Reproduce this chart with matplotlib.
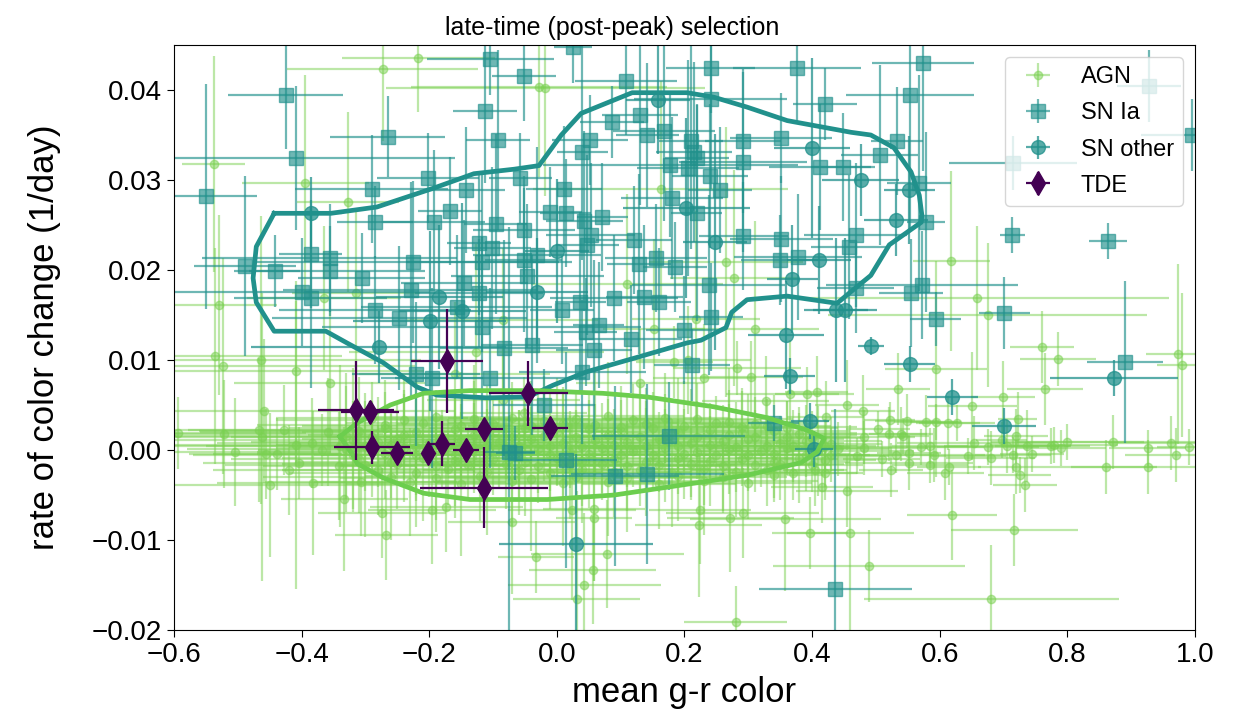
import numpy as np
import matplotlib.pyplot as plt

plt.rcParams['font.family'] = ['Liberation Sans', 'DejaVu Sans']

# ---- AGN (mean g-r, rate, errors) ----
agn_x = [
    -0.217, -0.273, -0.538, -0.394, -0.327, -0.529, -0.365, -0.315, -0.085, -0.028,
    -0.018, 0.163, 0.265, 0.278, 0.110, 0.218, 0.152, 0.311, 0.618, 0.659,
    0.675, 0.760, 0.785, 0.974, 0.980, 0.594, 0.765, 0.535, 0.699, 0.651,
    0.480, 0.722, 0.522, 0.549, 0.578, 0.594, 0.613, 0.627, 0.503, 0.520,
    0.539, 0.543, 0.481, 0.482, 0.719, 0.697, 0.800, 0.779, 0.871, 0.963,
    0.990, 0.926, 0.970, 0.790, 0.775, 0.653, 0.675, 0.706, 0.737, 0.745,
    0.715, 0.680, 0.644, 0.591, 0.570, 0.585, 0.552, 0.531, 0.509, 0.470,
    0.552, 0.585, 0.524, 0.614, 0.609, 0.720, 0.725, 0.734, 0.860, 0.926,
    0.619, 0.717, 0.489, 0.681, 0.282, 0.305, 0.407, 0.392, 0.365, 0.455,
    0.222, 0.225, 0.272, 0.291, 0.358, 0.397, 0.460, 0.280, 0.455, 0.415,
    0.420, 0.405, -0.033, 0.056, 0.043, 0.031, 0.079, 0.058, 0.058, 0.024,
    -0.071, -0.196, -0.173, -0.267, -0.274, 0.327, 0.184, 0.205, 0.231, 0.421,
    -0.126, -0.160, -0.356, -0.463, -0.523, -0.536, -0.408, -0.084, -0.052, 0.130,
    -0.459, -0.593, -0.522, -0.467, -0.462, -0.428, -0.504, -0.456, -0.439, -0.409,
    -0.404, -0.419, -0.450, -0.382, -0.359, -0.383, -0.368, -0.333, -0.307, -0.341,
    # dense core
    -0.29, -0.24, -0.19, -0.13, -0.07, -0.02, 0.03, 0.08, 0.12, 0.17, 0.22, 0.27, 0.31,
    -0.31, -0.27, -0.22, -0.16, -0.11, -0.05, 0.00, 0.05, 0.10, 0.15, 0.19, 0.24, 0.29, 0.34, 0.38,
    -0.32, -0.28, -0.25, -0.20, -0.15, -0.09, -0.04, 0.01, 0.06, 0.11, 0.16, 0.21, 0.26, 0.30, 0.35, 0.39, 0.43,
    -0.33, -0.29, -0.24, -0.18, -0.13, -0.08, -0.03, 0.02, 0.07, 0.12, 0.17, 0.22, 0.27, 0.32, 0.36, 0.41, 0.44,
    -0.31, -0.26, -0.21, -0.16, -0.10, -0.05, 0.00, 0.04, 0.09, 0.14, 0.19, 0.24, 0.29, 0.34, 0.38, 0.42,
    -0.28, -0.22, -0.17, -0.11, -0.06, -0.01, 0.04, 0.09, 0.13, 0.18, 0.23, 0.28, 0.33, 0.37,
    -0.23, -0.15, -0.07, 0.01, 0.08, 0.16, 0.23, 0.30,
    -0.27, -0.21, -0.15, -0.10, -0.04, 0.01, 0.06, 0.10, 0.14, 0.20, 0.25, 0.29, 0.33, 0.36,
    -0.33, -0.29, -0.24, -0.18, -0.13, -0.07, -0.02, 0.03, 0.08, 0.13, 0.17, 0.22, 0.27, 0.31, 0.36, 0.40,
    -0.34, -0.30, -0.26, -0.22, -0.17, -0.11, -0.06, -0.01, 0.04, 0.09, 0.14, 0.19, 0.24, 0.28, 0.33, 0.37, 0.42,
    -0.32, -0.27, -0.22, -0.16, -0.11, -0.06, -0.01, 0.05, 0.10, 0.15, 0.20, 0.25, 0.30, 0.34, 0.39, 0.43,
    -0.30, -0.25, -0.19, -0.14, -0.08, -0.03, 0.02, 0.07, 0.11, 0.16, 0.21, 0.26, 0.31, 0.35, 0.40,
    -0.26, -0.19, -0.12, -0.04, 0.03, 0.11, 0.19, 0.26, 0.34,
]
agn_y = [
    0.0436, 0.0423, 0.0318, 0.0297, 0.0276, 0.0161, 0.0169, 0.0174, 0.0144, 0.0403,
    0.0402, 0.0290, 0.0209, 0.0191, 0.0184, 0.0146, 0.0134, 0.0134, 0.0210, 0.0169,
    0.0150, 0.0115, 0.0101, 0.0107, 0.0094, 0.0090, 0.0068, 0.0068, 0.0059, 0.0049,
    0.0043, 0.0035, 0.0033, 0.0032, 0.0031, 0.0031, 0.0030, 0.0030, 0.0023, 0.0018,
    0.0018, 0.0016, 0.0015, 0.0002, 0.0016, 0.0011, 0.0009, 0.0006, 0.0009, 0.0008,
    0.0003, 0.0002, -0.0005, 0.0002, 0.0004, 0.0008, 0.0003, 0.0004, 0.0005, -0.0004,
    -0.0005, -0.0009, -0.0007, -0.0006, 0.0003, 0.0005, -0.0003, -0.0005, -0.0010, -0.0007,
    -0.0014, -0.0017, -0.0022, -0.0019, -0.0025, -0.0019, -0.0028, -0.0039, -0.0019, -0.0019,
    -0.0072, -0.0089, -0.0129, -0.0166, 0.0091, 0.0081, 0.0064, 0.0062, 0.0062, 0.0050,
    -0.0083, -0.0067, -0.0075, -0.0070, -0.0077, -0.0092, -0.0092, -0.0191, -0.0045, -0.0041,
    -0.0026, -0.0022, -0.0119, -0.0133, -0.0150, -0.0165, -0.0116, -0.0065, -0.0076, -0.0067,
    -0.0080, -0.0067, -0.0063, -0.0094, -0.0070, 0.0054, 0.0098, 0.0100, 0.0080, 0.0037,
    0.0109, 0.0085, 0.0074, 0.0100, 0.0093, 0.0104, 0.0088, 0.0056, 0.0041, 0.0075,
    0.0043, 0.0019, 0.0018, 0.0022, 0.0015, 0.0022, -0.0002, -0.0004, -0.0004, 0.0006,
    -0.0014, -0.0022, -0.0039, -0.0037, 0.0020, 0.0008, 0.0000, -0.0054, -0.0035, -0.0018,
    0.0036, 0.0033, 0.0037, 0.0034, 0.0036, 0.0032, 0.0035, 0.0038, 0.0033, 0.0036, 0.0034, 0.0031, 0.0029,
    0.0021, 0.0024, 0.0020, 0.0023, 0.0021, 0.0024, 0.0020, 0.0023, 0.0021, 0.0024, 0.0020, 0.0022, 0.0019, 0.0021, 0.0018,
    0.0011, 0.0009, 0.0012, 0.0008, 0.0011, 0.0009, 0.0012, 0.0008, 0.0011, 0.0009, 0.0012, 0.0008, 0.0010, 0.0012, 0.0008, 0.0010, 0.0007,
    0.0001, -0.0002, 0.0002, -0.0001, 0.0002, -0.0002, 0.0001, -0.0002, 0.0002, -0.0001, 0.0002, -0.0002, 0.0001, -0.0001, 0.0002, -0.0001, 0.0001,
    -0.0010, -0.0013, -0.0009, -0.0012, -0.0010, -0.0013, -0.0009, -0.0012, -0.0010, -0.0013, -0.0009, -0.0012, -0.0010, -0.0013, -0.0009, -0.0011,
    -0.0022, -0.0025, -0.0021, -0.0024, -0.0022, -0.0025, -0.0021, -0.0024, -0.0022, -0.0025, -0.0021, -0.0024, -0.0022, -0.0025,
    -0.0035, -0.0038, -0.0034, -0.0037, -0.0035, -0.0038, -0.0034, -0.0037,
    0.0028, 0.0030, 0.0027, 0.0029, 0.0027, 0.0030, 0.0028, 0.0026, 0.0029, 0.0027, 0.0030, 0.0026, 0.0027, 0.0025,
    0.0016, 0.0014, 0.0017, 0.0015, 0.0017, 0.0014, 0.0016, 0.0015, 0.0017, 0.0014, 0.0016, 0.0015, 0.0017, 0.0014, 0.0015, 0.0013,
    0.0005, 0.0004, 0.0006, 0.0003, 0.0005, 0.0006, 0.0004, 0.0005, 0.0003, 0.0006, 0.0004, 0.0005, 0.0006, 0.0003, 0.0005, 0.0004, 0.0004,
    -0.0005, -0.0004, -0.0006, -0.0005, -0.0004, -0.0006, -0.0005, -0.0004, -0.0006, -0.0005, -0.0004, -0.0006, -0.0005, -0.0004, -0.0006, -0.0005,
    -0.0017, -0.0016, -0.0018, -0.0017, -0.0016, -0.0018, -0.0017, -0.0016, -0.0018, -0.0017, -0.0016, -0.0018, -0.0017, -0.0016, -0.0017,
    -0.0030, -0.0031, -0.0029, -0.0032, -0.0030, -0.0031, -0.0029, -0.0030, -0.0028,
]
agn_xerr = [
    0.12, 0.15, 0.05, 0.10, 0.08, 0.09, 0.12, 0.10, 0.15, 0.20,
    0.25, 0.20, 0.12, 0.10, 0.15, 0.10, 0.08, 0.10, 0.06, 0.30,
    0.25, 0.05, 0.06, 0.05, 0.04, 0.08, 0.06, 0.05, 0.05, 0.07,
    0.05, 0.03, 0.04, 0.05, 0.05, 0.04, 0.05, 0.06, 0.05, 0.06,
    0.05, 0.04, 0.08, 0.10, 0.05, 0.04, 0.12, 0.10, 0.15, 0.10,
    0.05, 0.06, 0.08, 0.07, 0.06, 0.12, 0.08, 0.10, 0.05, 0.05,
    0.06, 0.07, 0.06, 0.08, 0.10, 0.06, 0.05, 0.06, 0.06, 0.05,
    0.10, 0.06, 0.05, 0.05, 0.06, 0.06, 0.05, 0.05, 0.08, 0.12,
    0.07, 0.10, 0.15, 0.20, 0.10, 0.08, 0.05, 0.05, 0.10, 0.05,
    0.10, 0.08, 0.10, 0.12, 0.15, 0.06, 0.10, 0.08, 0.08, 0.08,
    0.06, 0.05, 0.06, 0.10, 0.12, 0.10, 0.12, 0.08, 0.06, 0.10,
    0.10, 0.10, 0.12, 0.08, 0.10, 0.10, 0.06, 0.10, 0.08, 0.06,
    0.20, 0.15, 0.15, 0.25, 0.30, 0.20, 0.20, 0.12, 0.10, 0.10,
    0.30, 0.20, 0.25, 0.20, 0.25, 0.15, 0.15, 0.12, 0.10, 0.30,
    0.15, 0.12, 0.20, 0.15, 0.20, 0.15, 0.10, 0.10, 0.15, 0.12,
    0.15, 0.20, 0.12, 0.18, 0.10, 0.22, 0.15, 0.12, 0.20, 0.10, 0.15, 0.12, 0.10,
    0.25, 0.15, 0.18, 0.12, 0.20, 0.15, 0.10, 0.18, 0.12, 0.20, 0.15, 0.10, 0.18, 0.12, 0.08,
    0.30, 0.20, 0.15, 0.22, 0.12, 0.18, 0.15, 0.20, 0.12, 0.15, 0.10, 0.18, 0.12, 0.15, 0.10, 0.12, 0.08,
    0.25, 0.18, 0.20, 0.15, 0.22, 0.12, 0.18, 0.15, 0.10, 0.20, 0.12, 0.15, 0.18, 0.10, 0.12, 0.15, 0.08,
    0.20, 0.15, 0.22, 0.12, 0.18, 0.15, 0.10, 0.20, 0.12, 0.15, 0.18, 0.10, 0.15, 0.12, 0.10, 0.08,
    0.15, 0.20, 0.12, 0.18, 0.15, 0.10, 0.20, 0.12, 0.15, 0.18, 0.10, 0.15, 0.12, 0.10,
    0.15, 0.18, 0.12, 0.20, 0.15, 0.12, 0.18, 0.10,
    0.20, 0.12, 0.25, 0.15, 0.10, 0.18, 0.12, 0.20, 0.15, 0.10, 0.12, 0.18, 0.10, 0.08,
    0.28, 0.22, 0.15, 0.18, 0.12, 0.20, 0.15, 0.10, 0.18, 0.12, 0.15, 0.10, 0.20, 0.12, 0.10, 0.08,
    0.30, 0.25, 0.18, 0.20, 0.15, 0.12, 0.20, 0.15, 0.10, 0.18, 0.12, 0.15, 0.10, 0.18, 0.12, 0.10, 0.08,
    0.25, 0.20, 0.15, 0.22, 0.12, 0.18, 0.10, 0.15, 0.20, 0.12, 0.15, 0.10, 0.18, 0.12, 0.10, 0.08,
    0.22, 0.18, 0.15, 0.20, 0.12, 0.15, 0.18, 0.10, 0.15, 0.12, 0.20, 0.10, 0.12, 0.10, 0.08,
    0.20, 0.15, 0.18, 0.12, 0.20, 0.15, 0.12, 0.10, 0.08,
]
agn_yerr = [
    0.006, 0.008, 0.012, 0.012, 0.010, 0.010, 0.008, 0.009, 0.008, 0.010,
    0.012, 0.012, 0.015, 0.012, 0.010, 0.012, 0.010, 0.012, 0.010, 0.008,
    0.008, 0.004, 0.003, 0.010, 0.008, 0.012, 0.004, 0.004, 0.004, 0.006,
    0.004, 0.003, 0.002, 0.003, 0.003, 0.002, 0.003, 0.002, 0.002, 0.003,
    0.003, 0.002, 0.003, 0.003, 0.003, 0.002, 0.002, 0.002, 0.003, 0.003,
    0.002, 0.002, 0.003, 0.002, 0.002, 0.003, 0.002, 0.003, 0.004, 0.002,
    0.002, 0.003, 0.002, 0.003, 0.002, 0.002, 0.002, 0.002, 0.002, 0.002,
    0.003, 0.002, 0.003, 0.002, 0.003, 0.003, 0.002, 0.003, 0.003, 0.003,
    0.005, 0.004, 0.004, 0.006, 0.003, 0.004, 0.004, 0.003, 0.006, 0.005,
    0.008, 0.006, 0.006, 0.005, 0.008, 0.004, 0.012, 0.004, 0.004, 0.004,
    0.003, 0.004, 0.004, 0.006, 0.008, 0.012, 0.006, 0.008, 0.007, 0.010,
    0.008, 0.006, 0.005, 0.005, 0.005, 0.005, 0.004, 0.006, 0.006, 0.004,
    0.012, 0.008, 0.008, 0.016, 0.012, 0.012, 0.010, 0.006, 0.004, 0.006,
    0.008, 0.004, 0.006, 0.008, 0.016, 0.005, 0.006, 0.005, 0.004, 0.016,
    0.004, 0.005, 0.008, 0.008, 0.006, 0.005, 0.004, 0.008, 0.006, 0.006,
    0.004, 0.005, 0.003, 0.006, 0.004, 0.005, 0.003, 0.006, 0.004, 0.005, 0.004, 0.006, 0.003,
    0.006, 0.004, 0.007, 0.004, 0.005, 0.003, 0.006, 0.004, 0.005, 0.004, 0.006, 0.003, 0.005, 0.004, 0.003,
    0.008, 0.005, 0.004, 0.006, 0.004, 0.005, 0.003, 0.006, 0.004, 0.005, 0.003, 0.006, 0.004, 0.005, 0.003, 0.004, 0.003,
    0.007, 0.005, 0.006, 0.004, 0.005, 0.003, 0.006, 0.004, 0.005, 0.004, 0.006, 0.003, 0.005, 0.004, 0.003, 0.005, 0.003,
    0.006, 0.004, 0.007, 0.005, 0.004, 0.006, 0.003, 0.005, 0.004, 0.006, 0.004, 0.005, 0.003, 0.004, 0.005, 0.003,
    0.005, 0.006, 0.004, 0.007, 0.005, 0.004, 0.006, 0.005, 0.004, 0.006, 0.004, 0.005, 0.004, 0.003,
    0.006, 0.008, 0.005, 0.007, 0.006, 0.005, 0.006, 0.004,
    0.005, 0.004, 0.006, 0.003, 0.005, 0.004, 0.006, 0.003, 0.004, 0.005, 0.003, 0.004, 0.003, 0.003,
    0.007, 0.004, 0.005, 0.003, 0.006, 0.004, 0.005, 0.003, 0.004, 0.006, 0.003, 0.004, 0.005, 0.003, 0.004, 0.003,
    0.009, 0.005, 0.004, 0.006, 0.003, 0.005, 0.004, 0.006, 0.003, 0.004, 0.005, 0.003, 0.004, 0.005, 0.003, 0.004, 0.003,
    0.006, 0.005, 0.004, 0.007, 0.003, 0.005, 0.004, 0.006, 0.003, 0.004, 0.005, 0.003, 0.004, 0.003, 0.004, 0.003,
    0.008, 0.005, 0.006, 0.004, 0.005, 0.003, 0.006, 0.004, 0.005, 0.003, 0.004, 0.005, 0.003, 0.004, 0.003,
    0.007, 0.006, 0.005, 0.008, 0.004, 0.006, 0.005, 0.004, 0.003,
]

# ---- SN Ia ----
snia_x = [
    -0.425, -0.409, -0.550, -0.265, -0.290, -0.202, -0.142, -0.112, -0.092, -0.104,
    -0.285, -0.193, -0.167, -0.096, -0.122, -0.101, -0.117, -0.386, -0.356, -0.356,
    -0.489, -0.442, -0.226, -0.306, -0.229, -0.399, -0.386, -0.285, -0.247, -0.145,
    -0.122, -0.118, -0.157,
    -0.052, 0.108, 0.241, 0.376, 0.241, 0.130, 0.086, 0.142, 0.168, 0.052,
    0.040, 0.210, 0.215, 0.205, 0.219, 0.292, 0.292, 0.351, 0.420, 0.412,
    0.448, 0.178, 0.240, 0.256, 0.181, 0.219, -0.057, 0.011, -0.010, 0.014,
    0.043, 0.071, 0.053, 0.048, -0.052, -0.031, -0.052, 0.121, 0.129, 0.155,
    0.185, 0.292, 0.352, 0.349, 0.378, 0.458, 0.238, 0.090, 0.137, 0.160,
    0.037, 0.008, -0.046, 0.241, 0.066, 0.199, 0.045, 0.025,
    0.574, 0.553, 0.533, 0.506, 0.567, 0.578, 0.468, 0.714, 0.864, 0.572,
    0.555, 0.594, 0.701, 0.996, 0.928, 0.715, 0.468,
    -0.221, -0.195, -0.104, -0.083, -0.075, -0.039, 0.058, 0.116, 0.040, 0.212,
    -0.020, 0.175, 0.340, -0.065, 0.014, 0.091, 0.142, 0.436, 0.890,
]
snia_y = [
    0.0395, 0.0325, 0.0282, 0.0348, 0.0290, 0.0302, 0.0289, 0.0377, 0.0344, 0.0434,
    0.0253, 0.0253, 0.0266, 0.0251, 0.0230, 0.0224, 0.0209, 0.0218, 0.0213, 0.0199,
    0.0205, 0.0199, 0.0209, 0.0191, 0.0178, 0.0176, 0.0169, 0.0156, 0.0147, 0.0186,
    0.0174, 0.0137, 0.0159,
    0.0416, 0.0410, 0.0425, 0.0425, 0.0390, 0.0372, 0.0365, 0.0350, 0.0354, 0.0344,
    0.0331, 0.0343, 0.0331, 0.0313, 0.0324, 0.0343, 0.0320, 0.0347, 0.0384, 0.0314,
    0.0315, 0.0317, 0.0304, 0.0289, 0.0280, 0.0263, 0.0302, 0.0290, 0.0265, 0.0263,
    0.0254, 0.0259, 0.0239, 0.0228, 0.0244, 0.0217, 0.0211, 0.0233, 0.0207, 0.0213,
    0.0203, 0.0238, 0.0235, 0.0211, 0.0215, 0.0226, 0.0183, 0.0169, 0.0170, 0.0165,
    0.0165, 0.0156, 0.0193, 0.0148, 0.0139, 0.0133, 0.0131, 0.0448,
    0.0430, 0.0394, 0.0343, 0.0328, 0.0297, 0.0253, 0.0239, 0.0239, 0.0232, 0.0183,
    0.0174, 0.0146, 0.0152, 0.0350, 0.0405, 0.0319, 0.0180,
    0.0085, 0.0080, 0.0080, 0.0113, -0.0002, 0.0117, 0.0111, 0.0123, 0.0087, 0.0095,
    0.0050, 0.0016, 0.0030, -0.0003, -0.0011, -0.0029, -0.0027, -0.0154, 0.0098,
]
snia_xerr = [
    0.09, 0.25, 0.08, 0.09, 0.12, 0.08, 0.06, 0.05, 0.05, 0.10,
    0.06, 0.08, 0.05, 0.05, 0.05, 0.06, 0.12, 0.05, 0.20, 0.15,
    0.08, 0.04, 0.25, 0.10, 0.20, 0.20, 0.12, 0.15, 0.20, 0.10,
    0.10, 0.25, 0.15,
    0.05, 0.08, 0.07, 0.10, 0.12, 0.06, 0.05, 0.05, 0.08, 0.06,
    0.04, 0.05, 0.06, 0.08, 0.05, 0.06, 0.10, 0.08, 0.05, 0.08,
    0.05, 0.20, 0.06, 0.05, 0.08, 0.04, 0.05, 0.06, 0.05, 0.04,
    0.06, 0.04, 0.07, 0.05, 0.08, 0.10, 0.06, 0.06, 0.05, 0.08,
    0.05, 0.07, 0.08, 0.06, 0.10, 0.06, 0.12, 0.10, 0.06, 0.05,
    0.04, 0.05, 0.12, 0.05, 0.04, 0.06, 0.05, 0.03,
    0.08, 0.10, 0.04, 0.06, 0.05, 0.03, 0.08, 0.02, 0.03, 0.15,
    0.05, 0.04, 0.04, 0.08, 0.05, 0.10, 0.06,
    0.10, 0.08, 0.15, 0.10, 0.04, 0.08, 0.06, 0.08, 0.10, 0.06,
    0.08, 0.12, 0.04, 0.03, 0.08, 0.10, 0.12, 0.12, 0.06,
]
snia_yerr = [
    0.006, 0.008, 0.0125, 0.0045, 0.006, 0.005, 0.007, 0.008, 0.010, 0.004,
    0.004, 0.008, 0.006, 0.010, 0.008, 0.009, 0.010, 0.006, 0.006, 0.005,
    0.010, 0.004, 0.009, 0.005, 0.012, 0.006, 0.010, 0.006, 0.008, 0.007,
    0.006, 0.010, 0.008,
    0.005, 0.006, 0.005, 0.006, 0.010, 0.010, 0.004, 0.008, 0.010, 0.005,
    0.012, 0.012, 0.010, 0.012, 0.006, 0.008, 0.010, 0.005, 0.004, 0.007,
    0.006, 0.008, 0.008, 0.007, 0.009, 0.012, 0.005, 0.007, 0.005, 0.006,
    0.010, 0.006, 0.008, 0.010, 0.006, 0.012, 0.008, 0.006, 0.010, 0.006,
    0.005, 0.006, 0.007, 0.005, 0.007, 0.008, 0.010, 0.007, 0.008, 0.006,
    0.010, 0.006, 0.008, 0.006, 0.007, 0.006, 0.006, 0.004,
    0.012, 0.015, 0.006, 0.010, 0.012, 0.010, 0.008, 0.002, 0.002, 0.006,
    0.006, 0.003, 0.004, 0.004, 0.004, 0.003, 0.005,
    0.008, 0.010, 0.010, 0.012, 0.025, 0.010, 0.010, 0.006, 0.008, 0.004,
    0.004, 0.006, 0.002, 0.003, 0.012, 0.010, 0.010, 0.020, 0.009,
]

# ---- SN other ----
snother_x = [-0.386, -0.184, -0.199, -0.148, 0.000, 0.203, 0.248, 0.400, 0.411, 0.369,
             0.437, 0.452, 0.359, -0.031, 0.158, 0.476, 0.552, 0.531, -0.279, 0.365,
             0.397, 0.403, 0.030, 0.492, 0.553, 0.620, 0.701, 0.873]
snother_y = [0.0263, 0.0170, 0.0143, 0.0154, 0.0221, 0.0269, 0.0231, 0.0336, 0.0211, 0.0190,
             0.0156, 0.0156, 0.0128, 0.0176, 0.0389, 0.0300, 0.0289, 0.0256, 0.0115, 0.0082,
             0.0032, 0.0001, -0.0104, 0.0116, 0.0096, 0.0059, 0.0027, 0.0080]
snother_xerr = [0.05, 0.10, 0.12, 0.10, 0.05, 0.10, 0.05, 0.06, 0.05, 0.04,
                0.05, 0.05, 0.06, 0.08, 0.05, 0.06, 0.04, 0.05, 0.20, 0.04,
                0.03, 0.03, 0.12, 0.02, 0.04, 0.04, 0.05, 0.10]
snother_yerr = [0.004, 0.008, 0.010, 0.012, 0.008, 0.010, 0.012, 0.010, 0.006, 0.006,
                0.008, 0.008, 0.006, 0.006, 0.006, 0.004, 0.006, 0.004, 0.004, 0.002,
                0.002, 0.002, 0.010, 0.001, 0.002, 0.002, 0.002, 0.002]

# ---- TDE ----
tde_x = [-0.315, -0.293, -0.290, -0.251, -0.202, -0.180, -0.142, -0.114, -0.114, -0.172, -0.045, -0.011]
tde_y = [0.0044, 0.0042, 0.0003, -0.0003, -0.0003, 0.0007, 0.0000, 0.0023, -0.0042, 0.0099, 0.0063, 0.0024]
tde_xerr = [0.06, 0.045, 0.06, 0.025, 0.01, 0.02, 0.02, 0.03, 0.10, 0.057, 0.062, 0.028]
tde_yerr = [0.0055, 0.0012, 0.0018, 0.0008, 0.0008, 0.0025, 0.0008, 0.0012, 0.0045, 0.0058, 0.0036, 0.0008]

# ---- density contours ----
sn_contour_x = [-0.443, -0.471, -0.476, -0.471, -0.443, -0.362, -0.329, -0.272, -0.219, -0.188,
                -0.110, -0.045, -0.006, 0.047, 0.126, 0.204, 0.226, 0.265, 0.274, 0.298,
                0.361, 0.439, 0.461, 0.492, 0.521, 0.539, 0.571, 0.572, 0.568, 0.555,
                0.528, 0.492, 0.461, 0.361, 0.298, 0.246, 0.204, 0.118, 0.038, 0.007,
                -0.028, -0.067, -0.130, -0.193, -0.282, -0.354, -0.443]
sn_contour_y = [0.0263, 0.0226, 0.0191, 0.0164, 0.0132, 0.0132, 0.0119, 0.0097, 0.0070, 0.0061,
                0.0058, 0.0059, 0.0072, 0.0087, 0.0103, 0.0119, 0.0122, 0.0136, 0.0153, 0.0167,
                0.0171, 0.0163, 0.0176, 0.0194, 0.0228, 0.0237, 0.0253, 0.0261, 0.0283, 0.0309,
                0.0336, 0.0350, 0.0353, 0.0366, 0.0381, 0.0392, 0.0397, 0.0397, 0.0374, 0.0350,
                0.0316, 0.0312, 0.0307, 0.0291, 0.0270, 0.0263, 0.0263]
agn_contour_x = [-0.340, -0.313, -0.261, -0.209, -0.136, -0.031, 0.072, 0.141, 0.246, 0.329,
                 0.392, 0.419, 0.408, 0.383, 0.298, 0.195, 0.090, -0.015, -0.136, -0.209,
                 -0.272, -0.313, -0.321, -0.340]
agn_contour_y = [0.0015, 0.0030, 0.0050, 0.0063, 0.0066, 0.0066, 0.0063, 0.0059, 0.0048, 0.0036,
                 0.0022, 0.0013, -0.0002, -0.0014, -0.0028, -0.0039, -0.0050, -0.0055, -0.0055, -0.0048,
                 -0.0031, -0.0015, -0.0004, 0.0015]

c_agn = '#7ad151'
c_sn = '#21918c'
c_tde = '#440154'

fig = plt.figure(figsize=(12.4, 7.27), dpi=100)
ax = fig.add_axes([0.1403, 0.1334, 0.8234, 0.8047])

h_agn = ax.errorbar(agn_x, agn_y, xerr=agn_xerr, yerr=agn_yerr, fmt='o', ms=6,
                    color=c_agn, alpha=0.5, elinewidth=1.6, zorder=1, label='AGN')
h_ia = ax.errorbar(snia_x, snia_y, xerr=snia_xerr, yerr=snia_yerr, fmt='s', ms=10,
                   color=c_sn, alpha=0.65, elinewidth=1.6, zorder=2, label='SN Ia')
h_ot = ax.errorbar(snother_x, snother_y, xerr=snother_xerr, yerr=snother_yerr, fmt='o', ms=10,
                   color=c_sn, alpha=0.75, elinewidth=1.6, zorder=2, label='SN other')

ax.plot(sn_contour_x, sn_contour_y, color=c_sn, lw=3.4, zorder=3)
ax.plot(agn_contour_x, agn_contour_y, color='#6cce4e', lw=3.4, zorder=3)

h_tde = ax.errorbar(tde_x, tde_y, xerr=tde_xerr, yerr=tde_yerr, fmt='d', ms=12,
                    color=c_tde, elinewidth=1.6, zorder=4, label='TDE')

ax.set_xlim(-0.6, 1.0)
ax.set_ylim(-0.02, 0.045)
ax.set_xticks(np.arange(-0.6, 1.01, 0.2))
ax.set_yticks(np.arange(-0.02, 0.041, 0.01))
ax.tick_params(labelsize=20, length=5)
ax.set_xlabel('mean g-r color', fontsize=25, labelpad=6)
ax.set_ylabel('rate of color change (1/day)', fontsize=25, labelpad=22)
fig.text(0.494, 0.962, 'late-time (post-peak) selection', fontsize=18, ha='center', va='center')

ax.legend(handles=[h_agn, h_ia, h_ot, h_tde], loc='upper right', fontsize=17,
          borderaxespad=0.5, handlelength=2.0, labelspacing=0.6)

fig.savefig('out.png', dpi=100)
